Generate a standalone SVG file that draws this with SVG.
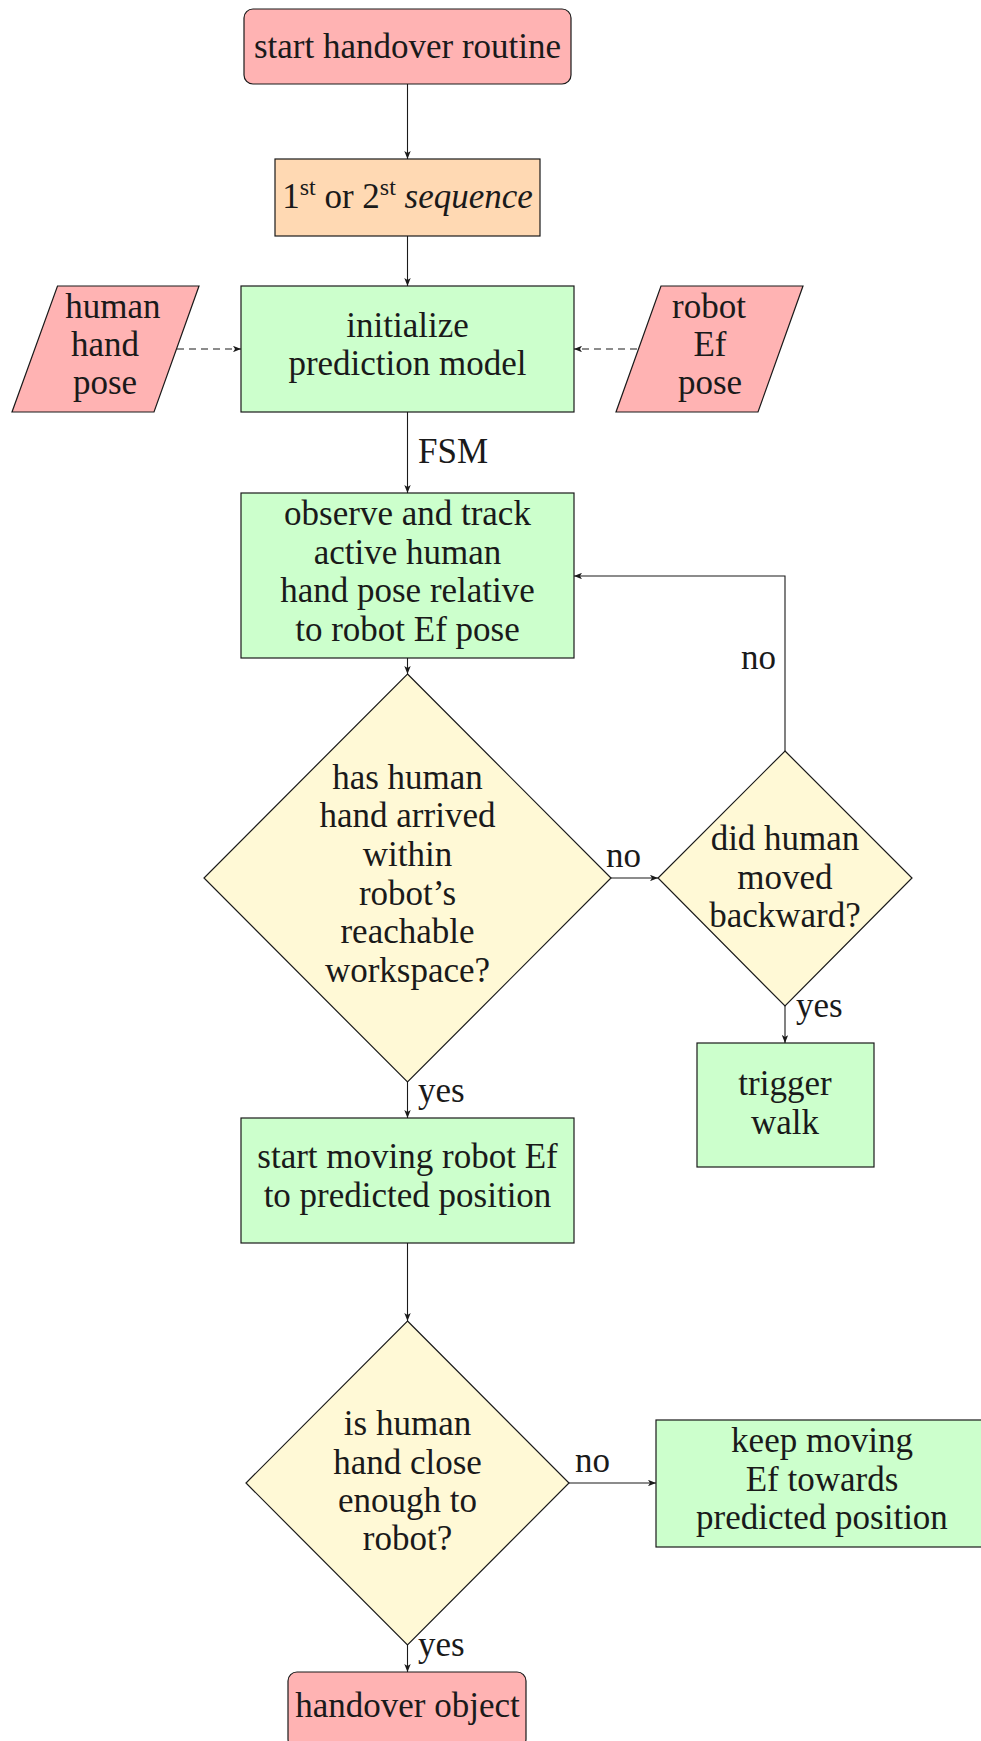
<svg xmlns="http://www.w3.org/2000/svg" width="981" height="1741" viewBox="0 0 981 1741">
<style>
text{font-family:"Liberation Serif","Times New Roman",serif;font-size:35px;fill:#1a1a1a;text-anchor:middle}
.lbl{text-anchor:start}
.red{fill:#FFB3B3;stroke:#1a1a1a;stroke-width:1.2}
.org{fill:#FFD9B3;stroke:#1a1a1a;stroke-width:1.2}
.grn{fill:#CCFFCC;stroke:#1a1a1a;stroke-width:1.2}
.yel{fill:#FFF9D6;stroke:#1a1a1a;stroke-width:1.2}
.c{fill:none;stroke:#1a1a1a;stroke-width:1.1;marker-end:url(#ah)}
.d{stroke-dasharray:7 5}
</style>
<defs>
<marker id="ah" viewBox="0 0 10 8" refX="10" refY="4" markerWidth="8" markerHeight="6.4" markerUnits="userSpaceOnUse" orient="auto">
<path d="M0,0 L10,4 L0,8 L2.5,4 Z" fill="#1a1a1a"/>
</marker>
</defs>
<rect width="981" height="1741" fill="#fff"/>
<g id="connectors">
<path class="c" d="M407.5,84 V159"/>
<path class="c" d="M407.5,236 V286"/>
<path class="c d" d="M177,349 H241"/>
<path class="c d" d="M637,349 H574"/>
<path class="c" d="M407.5,412 V493"/>
<path class="c" d="M407.5,658 V674"/>
<path class="c" d="M611,878 H658"/>
<path class="c" d="M785,751 V576 H574"/>
<path class="c" d="M785,1006 V1043"/>
<path class="c" d="M407.5,1082 V1118"/>
<path class="c" d="M407.5,1243 V1321"/>
<path class="c" d="M569,1483 H656"/>
<path class="c" d="M407.5,1645 V1672"/>
<text x="418" y="463" class="lbl">FSM</text>
<text x="606" y="867" class="lbl">no</text>
<text x="741" y="669" class="lbl">no</text>
<text x="796" y="1017" class="lbl">yes</text>
<text x="418" y="1102" class="lbl">yes</text>
<text x="575" y="1472" class="lbl">no</text>
<text x="418" y="1656" class="lbl">yes</text>
</g>
<g id="start">
<rect class="red" x="244" y="9" width="327" height="75" rx="9"/>
<text x="407.5" y="58">start handover routine</text>
</g>
<g id="sequence">
<rect class="org" x="275" y="159" width="265" height="77"/>
<text x="407.5" y="208">1<tspan font-size="24" dy="-13">st</tspan><tspan dy="13"> or 2</tspan><tspan font-size="24" dy="-13">st</tspan><tspan dy="13"> </tspan><tspan font-style="italic">sequence</tspan></text>
</g>
<g id="human-hand-pose">
<polygon class="red" points="57.5,286 199,286 154,412 12,412"/>
<text x="113" y="318">human</text>
<text x="105" y="356">hand</text>
<text x="105" y="394">pose</text>
</g>
<g id="initialize">
<rect class="grn" x="241" y="286" width="333" height="126"/>
<text x="407.5" y="337">initialize</text>
<text x="407.5" y="375">prediction model</text>
</g>
<g id="robot-ef-pose">
<polygon class="red" points="661,286 803,286 758,412 616,412"/>
<text x="709" y="318">robot</text>
<text x="710" y="356">Ef</text>
<text x="710" y="394">pose</text>
</g>
<g id="observe">
<rect class="grn" x="241" y="493" width="333" height="165"/>
<text x="407.5" y="525">observe and track</text>
<text x="407.5" y="564">active human</text>
<text x="407.5" y="602">hand pose relative</text>
<text x="407.5" y="641">to robot Ef pose</text>
</g>
<g id="arrived">
<polygon class="yel" points="407.5,674 611,878 407.5,1082 204,878"/>
<text x="407.5" y="789">has human</text>
<text x="407.5" y="827">hand arrived</text>
<text x="407.5" y="866">within</text>
<text x="407.5" y="905">robot’s</text>
<text x="407.5" y="943">reachable</text>
<text x="407.5" y="982">workspace?</text>
</g>
<g id="backward">
<polygon class="yel" points="785,751 912,878 785,1006 658,878"/>
<text x="785" y="850">did human</text>
<text x="785" y="889">moved</text>
<text x="785" y="927">backward?</text>
</g>
<g id="trigger-walk">
<rect class="grn" x="697" y="1043" width="177" height="124"/>
<text x="785" y="1095">trigger</text>
<text x="785" y="1134">walk</text>
</g>
<g id="start-moving">
<rect class="grn" x="241" y="1118" width="333" height="125"/>
<text x="407.5" y="1168">start moving robot Ef</text>
<text x="407.5" y="1207">to predicted position</text>
</g>
<g id="close-enough">
<polygon class="yel" points="407.5,1321 569,1483 407.5,1645 246,1483"/>
<text x="407.5" y="1435">is human</text>
<text x="407.5" y="1474">hand close</text>
<text x="407.5" y="1512">enough to</text>
<text x="407.5" y="1550">robot?</text>
</g>
<g id="keep-moving">
<rect class="grn" x="656" y="1420" width="332" height="127"/>
<text x="822" y="1452">keep moving</text>
<text x="822" y="1491">Ef towards</text>
<text x="822" y="1529">predicted position</text>
</g>
<g id="handover">
<rect class="red" x="288" y="1672" width="238" height="76" rx="9"/>
<text x="407.5" y="1717">handover object</text>
</g>
</svg>
